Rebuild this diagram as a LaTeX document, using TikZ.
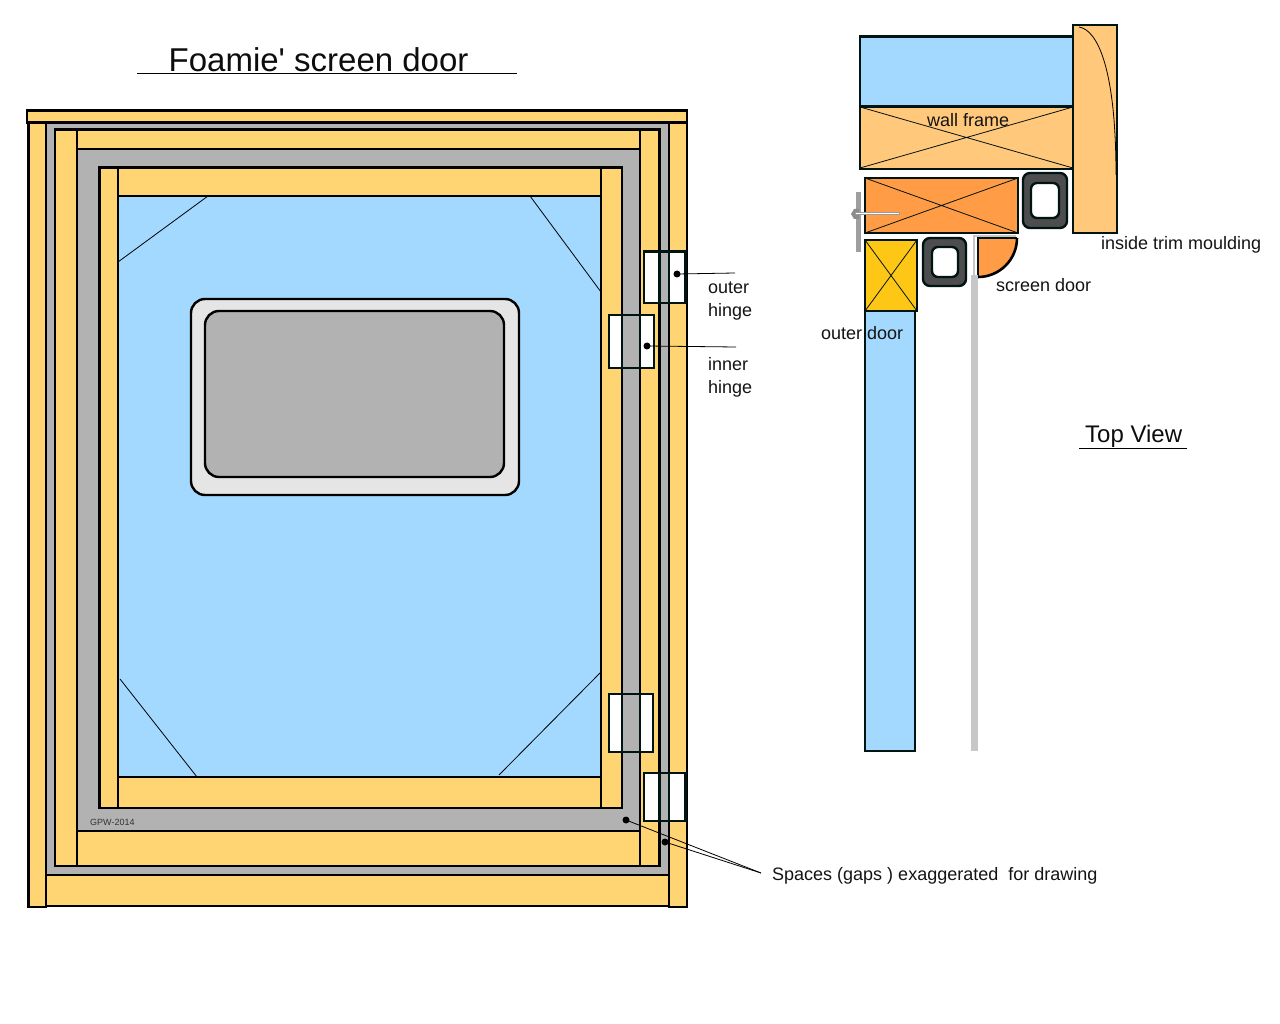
\documentclass[tikz,border=0pt]{standalone}
\usepackage{fontspec}
\setmainfont{Liberation Sans}
\newfontfamily\plainfont{Liberation Sans}
\definecolor{wood}{HTML}{FFD573}
\definecolor{glass}{HTML}{A3D8FF}
\definecolor{gapgrey}{HTML}{B2B2B2}
\definecolor{trim}{HTML}{FFC87A}
\definecolor{jamb}{HTML}{FF9C45}
\definecolor{stop}{HTML}{FFC715}
\definecolor{seal}{HTML}{4D4D4D}
\definecolor{ink}{HTML}{001414}
\tikzset{
  x=1pt,y=-1pt,
  part/.style={draw=black,line width=2.4pt,line join=miter},
  woodpart/.style={part,fill=wood},
  hingepart/.style={draw=ink,line width=2.4pt,fill=white},
  topline/.style={draw=ink,line width=2.4pt},
  cross/.style={draw=ink,line width=0.8pt},
  thin/.style={draw=black,line width=0.8pt},
  dot/.style={circle,fill=black,inner sep=0pt,minimum size=7pt},
  lab/.style={inner sep=0pt,font=\fontsize{18}{20}\selectfont,text=black!92,anchor=base west},
}
\begin{document}
\begin{tikzpicture}
\useasboundingbox (0,0) rectangle (1280,1024);
\fill[white] (0,0) rectangle (1280,1024);
% outer frame
\draw[part,fill=gapgrey] (46,122) rectangle (669,875);
\draw[woodpart] (28.5,122) rectangle (46,907);
\draw[woodpart] (46,875) rectangle (669,906);
\draw[woodpart] (669,122) rectangle (687,907);
\draw[woodpart] (27,110.5) rectangle (687,122.5);
% door jamb frame
\draw[woodpart] (77,129.5) rectangle (640,149);
\draw[woodpart] (77,831) rectangle (640,866);
\draw[woodpart] (55,129.5) rectangle (77,866);
\draw[woodpart] (640,129.5) rectangle (659.5,866);
% screen door
\draw[part,fill=glass] (118,196) rectangle (601,777);
\draw[woodpart] (118,167.5) rectangle (601,196);
\draw[woodpart] (118,777) rectangle (601,808);
\draw[woodpart] (99.5,167.5) rectangle (118,808);
\draw[woodpart] (601,167.5) rectangle (622,808);
% corner braces
\draw[thin] (118,262) -- (208,196);
\draw[thin] (530,196) -- (601,292);
\draw[thin] (120,679) -- (197,777);
\draw[thin] (600,673) -- (499,775);
% window
\draw[part,fill=black!10,rounded corners=14pt] (191,299) rectangle (519,495);
\draw[part,fill=gapgrey,rounded corners=14pt] (205,311) rectangle (504,477);
% hinges
\newcommand{\hingegap}[6]{%
  \draw[hingepart] (#1,#3) rectangle (#2,#4);
  \fill[gapgrey] (#5,#3) rectangle (#6,#4);
  \draw[topline] (#5,#3) -- (#5,#4) (#6,#3) -- (#6,#4);
  \draw[hingepart,fill=none] (#1,#3) rectangle (#2,#4);
}
\hingegap{644}{685.5}{251.5}{303}{659.5}{669}
\hingegap{609}{654}{315}{368}{622}{640}
\hingegap{609}{653}{694}{752}{622}{640}
\hingegap{644}{685.5}{773}{821}{659.5}{669}
% leaders
\node[dot] (dOuter) at (677,274) {};
\node[dot] (dInner) at (647,346) {};
\node[dot] (dGapA) at (626,820) {};
\node[dot] (dGapB) at (665,842) {};
\coordinate (eOuter) at (735,273);
\coordinate (eInner) at (736,347);
\coordinate (eGap) at (761,873);
\draw[thin] (dOuter.center) -- (eOuter);
\draw[thin] (dInner.center) -- (eInner);
\draw[thin] (dGapA.center) -- (eGap);
\draw[thin] (dGapB.center) -- (eGap);
% labels left
\node[inner sep=0pt,anchor=base west,font=\plainfont\fontsize{33}{36}\selectfont,text=black!95] (title) at (168.5,72) {Foamie' screen door};
\coordinate (tA) at (137,73); \coordinate (tB) at (517,73);
\draw[thin] (tA) -- (tB);
\node[lab] (lOuter) at (708,293.7) {outer};
\node[lab] (lOuterH) at (708,316.3) {hinge};
\node[lab] (lInner) at (708,370.7) {inner};
\node[lab] (lInnerH) at (708,393.3) {hinge};
\node[lab] (lGap) at (772,880) {Spaces (gaps ) exaggerated\ \ for drawing};
\node[inner sep=0pt,anchor=base west,font=\fontsize{9}{10}\selectfont,text=black!80] (gpw) at (90,825) {GPW-2014};
% top view
\draw[topline,fill=glass] (860,36.5) rectangle (1074,106);
\draw[topline,fill=trim] (860,107) rectangle (1073,169);
\draw[topline,line width=3.5pt] (860,106.5) -- (1073,106.5);
\draw[cross] (860,107) -- (1073,168) (860,168) -- (1073,107);
\draw[topline,fill=trim] (1073,25) rectangle (1117,233);
\draw[thin] (1079,27) .. controls (1098,30) and (1116,70) .. (1116,175);
\draw[topline,fill=jamb] (865,178) rectangle (1018,233);
\draw[cross] (865,178) -- (1018,233) (865,233) -- (1018,178);
\draw[topline,fill=seal,rounded corners=7pt] (1023,173) rectangle (1067,228);
\draw[topline,fill=white,rounded corners=6pt] (1031,183) rectangle (1059,218);
\draw[topline,fill=seal,rounded corners=7pt] (923,238) rectangle (966,286);
\draw[topline,fill=white,rounded corners=6pt] (932,247) rectangle (958,277);
\draw[topline,fill=glass] (865,311) rectangle (915,751);
\draw[topline,fill=stop] (865,240) rectangle (917,311);
\draw[cross] (865,240) -- (917,311) (865,311) -- (917,240);
\fill[jamb] (978,238) -- (1017,238) arc[start angle=0,end angle=90,radius=39] -- cycle;
\draw[draw=ink,line width=1.4pt] (1017,238) -- (978,238) -- (978,277);
\draw[black,line width=2.6pt] (1017,238) arc[start angle=0,end angle=90,radius=39];
\draw[draw=black!22,line width=2pt] (1016,236.5) -- (974,236.5) -- (974,275);
\fill[black!22] (971,275) rectangle (977.5,751);
% latch
\fill[black!38] (856,192) rectangle (861,252);
\fill[black!45] (851,214) -- (854,209) -- (859,209) -- (859,219) -- (854,219) -- cycle;
\draw[draw=black!40,line width=0.7pt,fill=white] (855,212) rectangle (899,214);
% top view labels
\node[lab] (lWall) at (927,127) {wall frame};
\node[lab] (lTrim) at (1101,250) {inside trim moulding};
\node[lab] (lScreen) at (996,292) {screen door};
\node[lab] (lDoor) at (821,340) {outer door};
\node[inner sep=0pt,anchor=base west,font=\plainfont\fontsize{24}{26}\selectfont,text=black!95] (lTop) at (1085,442) {Top View};
\coordinate (uA) at (1079,448); \coordinate (uB) at (1187,448);
\draw[thin] (uA) -- (uB);
\end{tikzpicture}
\end{document}
